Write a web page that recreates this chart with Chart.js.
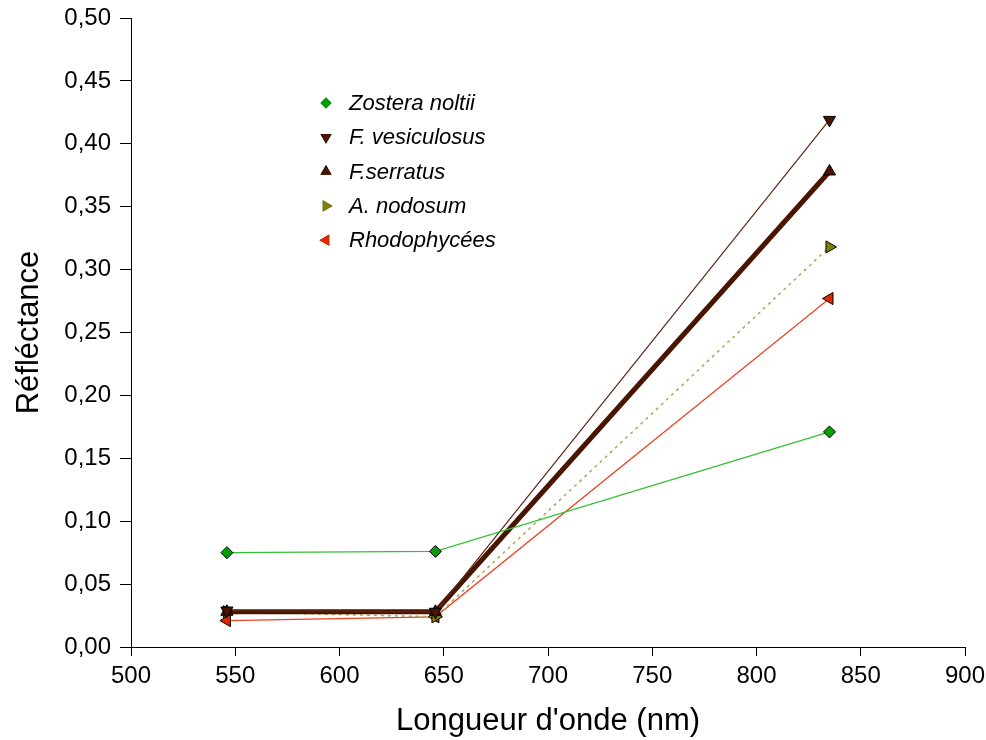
<!DOCTYPE html>
<html><head><meta charset="utf-8">
<script src="https://cdn.jsdelivr.net/npm/chart.js@4/dist/chart.umd.min.js"></script>
<style>html,body{margin:0;padding:0;background:#fff}#wrap{width:986px;height:740px}</style>
</head><body><div id="wrap"><canvas id="c" width="986" height="740"></canvas></div>
<script>
const wavelengths = [546, 646, 835];
const zostera = [0.075, 0.076, 0.171];
const fVesiculosus = [0.029, 0.028, 0.419];
const fSerratus = [0.028, 0.028, 0.378];
const aNodosum = [0.028, 0.024, 0.318];
const rhodophycees = [0.021, 0.024, 0.277];
const seriesNames = ['Zostera noltii', 'F. vesiculosus', 'F.serratus', 'A. nodosum', 'Rhodophycées'];
const yTicks = [0, 0.05, 0.10, 0.15, 0.20, 0.25, 0.30, 0.35, 0.40, 0.45, 0.50];
const xTicks = [500, 550, 600, 650, 700, 750, 800, 850, 900];

const pts = arr => arr.map((v, i) => ({x: wavelengths[i], y: v}));
const FONT = "'Liberation Sans', Arial, sans-serif";

const datasets = [
  {label: seriesNames[0], data: pts(zostera), borderColor: '#33c033', borderWidth: 1.2,
   pointStyle: 'rectRot', pointRadius: 6, pointBackgroundColor: '#00a000', pointRotation: 0},
  {label: seriesNames[1], data: pts(fVesiculosus), borderColor: '#5a2a14', borderWidth: 1.2,
   pointStyle: 'triangle', pointRadius: 7, pointBackgroundColor: '#4a1500', pointRotation: 180},
  {label: seriesNames[2], data: pts(fSerratus), borderColor: '#4a1500', borderWidth: 5,
   pointStyle: 'triangle', pointRadius: 7, pointBackgroundColor: '#4a1500', pointRotation: 0},
  {label: seriesNames[3], data: pts(aNodosum), borderColor: '#a8a850', borderWidth: 1.5, borderDash: [3, 4],
   pointStyle: 'triangle', pointRadius: 7, pointBackgroundColor: '#808000', pointRotation: 90},
  {label: seriesNames[4], data: pts(rhodophycees), borderColor: '#f04020', borderWidth: 1.2,
   pointStyle: 'triangle', pointRadius: 7, pointBackgroundColor: '#e02800', pointRotation: 270}
];
datasets.forEach(d => { d.pointBorderColor = '#000'; d.pointBorderWidth = 1; d.fill = false; d.tension = 0; });

const legendPlugin = {
  id: 'customLegend',
  afterDraw(chart) {
    const ctx = chart.ctx;
    ctx.save();
    chart.data.datasets.forEach((d, i) => {
      const y = 103 + i * 34.3;
      Chart.helpers.drawPoint(ctx, {
        pointStyle: d.pointStyle, radius: d.pointRadius - 0.5, rotation: d.pointRotation, borderWidth: 0
      }, 326, y);
      ctx.fillStyle = d.pointBackgroundColor;
      ctx.fill();
      ctx.fillStyle = '#000';
      ctx.font = 'italic 22px ' + FONT;
      ctx.textBaseline = 'middle';
      ctx.textAlign = 'left';
      ctx.fillText(d.label, 349, y + 1);
    });
    ctx.restore();
  }
};

new Chart(document.getElementById('c'), {
  type: 'line',
  data: {datasets},
  plugins: [legendPlugin],
  options: {
    responsive: false, animation: false,
    layout: {padding: {top: 18, right: 21, left: 0, bottom: 0}},
    plugins: {legend: {display: false}, tooltip: {enabled: false}},
    scales: {
      x: {
        type: 'linear', min: 500, max: 900,
        afterBuildTicks: s => { s.ticks = xTicks.map(v => ({value: v})); },
        afterFit: s => { s.height = 93; s.paddingLeft = 0; s.paddingRight = 0; },
        grid: {display: true, drawOnChartArea: false, drawTicks: true, tickLength: 9, tickColor: '#000'},
        border: {color: '#000', width: 1},
        ticks: {color: '#000', font: {family: FONT, size: 24}, padding: 6, maxRotation: 0},
        title: {display: true, text: "Longueur d'onde (nm)", color: '#000', font: {family: FONT, size: 31}, padding: {top: 0, bottom: 0}}
      },
      y: {
        min: 0, max: 0.5,
        afterBuildTicks: s => { s.ticks = yTicks.map(v => ({value: v})); },
        afterFit: s => { s.width = 131; s.paddingTop = 0; s.paddingBottom = 0; },
        grid: {display: true, drawOnChartArea: false, drawTicks: true, tickLength: 11, tickColor: '#000'},
        border: {color: '#000', width: 1},
        ticks: {color: '#000', font: {family: FONT, size: 24}, padding: 9,
          callback: v => v.toFixed(2).replace('.', ',')},
        title: {display: true, text: 'Réfléctance', color: '#000', font: {family: FONT, size: 31}, padding: {top: 11, bottom: 0}}
      }
    }
  }
});
</script></body></html>
